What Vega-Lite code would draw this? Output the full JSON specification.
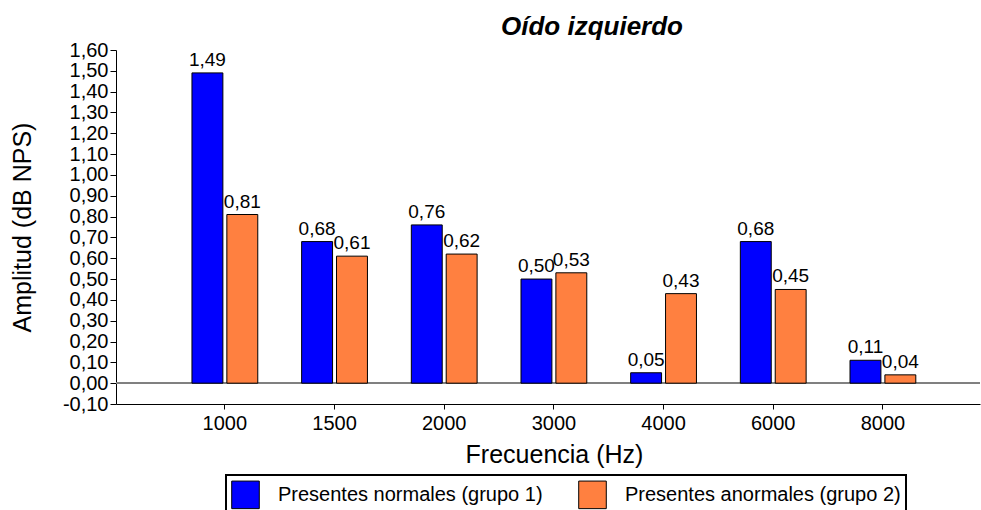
{
  "$schema": "https://vega.github.io/schema/vega-lite/v6.json",
  "width": 864,
  "height": 354,
  "autosize": "none",
  "padding": {"left": 116, "top": 50, "right": 1, "bottom": 106},
  "background": "white",
  "config": {
    "locale": {"number": {"decimal": ",", "thousands": ".", "grouping": [3], "currency": ["", "€"], "minus": "-"}},
    "font": "Liberation Sans",
    "view": {"stroke": null},
    "legend": {"strokeWidth": 2},
    "axis": {"domainColor": "black", "tickColor": "black", "labelColor": "black", "titleColor": "black", "titleFontWeight": "normal", "grid": false, "domainWidth": 1, "tickWidth": 1, "labelFont": "Liberation Sans", "titleFont": "Liberation Sans"}
  },
  "title": {"text": "Oído izquierdo", "fontStyle": "italic", "fontWeight": "bold", "fontSize": 26, "dx": 44, "dy": 28, "offset": 7, "baseline": "alphabetic", "color": "black", "font": "Liberation Sans"},
  "data": {"values": [
    {"freq": "1000", "group": "Presentes normales (grupo 1)", "value": 1.49},
    {"freq": "1000", "group": "Presentes anormales (grupo 2)", "value": 0.81},
    {"freq": "1500", "group": "Presentes normales (grupo 1)", "value": 0.68},
    {"freq": "1500", "group": "Presentes anormales (grupo 2)", "value": 0.61},
    {"freq": "2000", "group": "Presentes normales (grupo 1)", "value": 0.76},
    {"freq": "2000", "group": "Presentes anormales (grupo 2)", "value": 0.62},
    {"freq": "3000", "group": "Presentes normales (grupo 1)", "value": 0.50},
    {"freq": "3000", "group": "Presentes anormales (grupo 2)", "value": 0.53},
    {"freq": "4000", "group": "Presentes normales (grupo 1)", "value": 0.05},
    {"freq": "4000", "group": "Presentes anormales (grupo 2)", "value": 0.43},
    {"freq": "6000", "group": "Presentes normales (grupo 1)", "value": 0.68},
    {"freq": "6000", "group": "Presentes anormales (grupo 2)", "value": 0.45},
    {"freq": "8000", "group": "Presentes normales (grupo 1)", "value": 0.11},
    {"freq": "8000", "group": "Presentes anormales (grupo 2)", "value": 0.04}
  ]},
  "encoding": {
    "y": {
      "field": "value", "type": "quantitative",
      "scale": {"domain": [-0.1, 1.6], "nice": false, "zero": false},
      "axis": {
        "title": "Amplitud (dB NPS)", "titleFontSize": 25, "titlePadding": 27,
        "values": [-0.1, 0, 0.1, 0.2, 0.3, 0.4, 0.5, 0.6, 0.7, 0.8, 0.9, 1.0, 1.1, 1.2, 1.3, 1.4, 1.5, 1.6],
        "format": ".2f", "labelFontSize": 20, "tickSize": 6, "labelPadding": 2
      }
    }
  },
  "layer": [
    {
      "mark": {"type": "rule", "color": "#808080", "strokeWidth": 1},
      "encoding": {"y": {"datum": 0}}
    },
    {
      "mark": {"type": "bar", "stroke": "black", "strokeWidth": 1},
      "encoding": {
        "x": {
          "field": "freq", "type": "nominal", "sort": null,
          "scale": {"paddingInner": 0.4, "paddingOuter": 0.639, "align": 0.542},
          "axis": {"title": "Frecuencia (Hz)", "titleFontSize": 25, "titlePadding": 9, "titleX": 438, "labelAngle": 0, "labelFontSize": 20, "tickSize": 5, "labelPadding": 4}
        },
        "xOffset": {"field": "group", "type": "nominal", "sort": null, "scale": {"paddingInner": 0.114}},
        "color": {
          "field": "group", "type": "nominal", "sort": null,
          "scale": {"domain": ["Presentes normales (grupo 1)", "Presentes anormales (grupo 2)"], "range": ["#0000FF", "#FF8040"]},
          "legend": {
            "title": null, "orient": "none", "legendX": 110, "legendY": 425, "direction": "horizontal", "columns": 2,
            "strokeColor": "black", "padding": 5,
            "symbolType": "square", "symbolSize": 760, "symbolStrokeColor": "black", "symbolStrokeWidth": 1, "symbolOpacity": 1,
            "labelFontSize": 20, "labelColor": "black", "labelFont": "Liberation Sans", "labelOffset": 18, "columnPadding": 33, "labelLimit": 400
          }
        }
      }
    },
    {
      "mark": {"type": "text", "baseline": "bottom", "dy": -3, "fontSize": 19, "color": "black", "font": "Liberation Sans"},
      "encoding": {
        "x": {"field": "freq", "type": "nominal", "sort": null},
        "xOffset": {"field": "group", "type": "nominal", "sort": null},
        "text": {"field": "value", "type": "quantitative", "format": ".2f"}
      }
    }
  ]
}
